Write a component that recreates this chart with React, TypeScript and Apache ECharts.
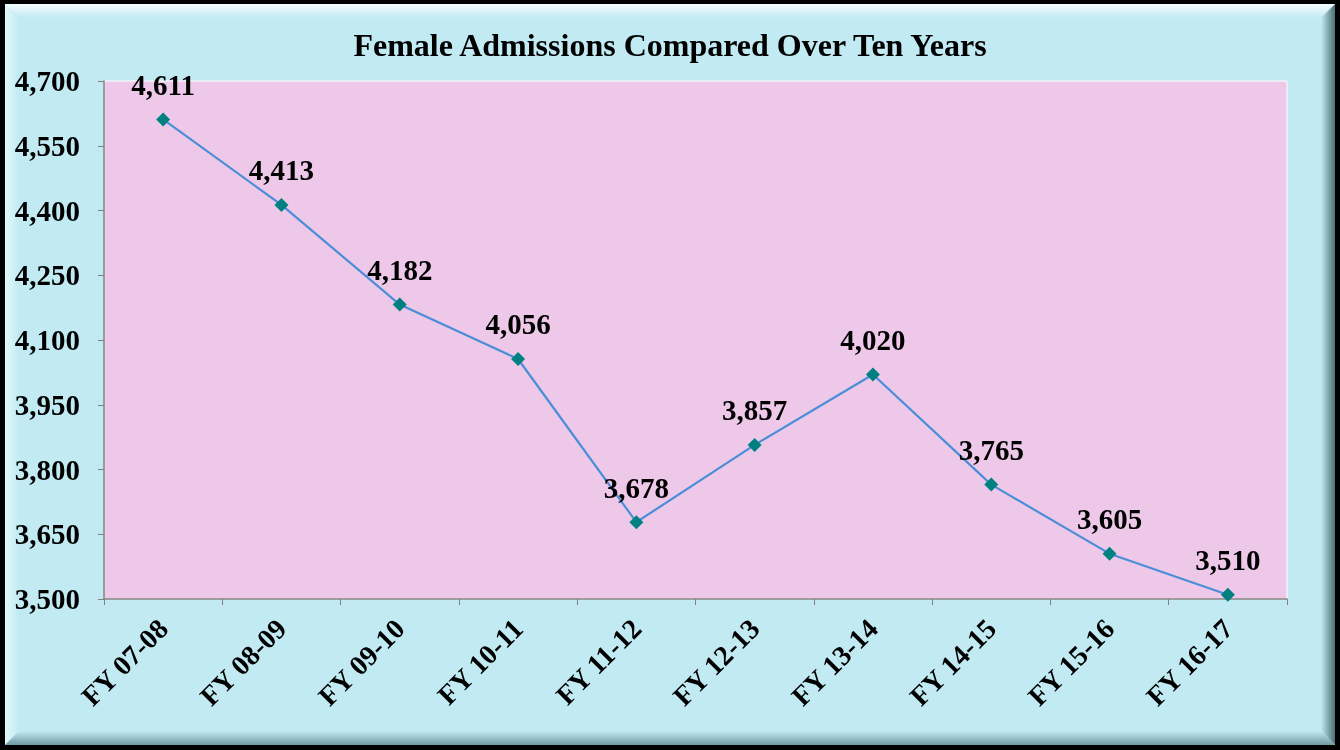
import React, { useEffect, useRef } from "react";
import * as echarts from "echarts";

const categories = ["FY 07-08", "FY 08-09", "FY 09-10", "FY 10-11", "FY 11-12", "FY 12-13", "FY 13-14", "FY 14-15", "FY 15-16", "FY 16-17"];
const admissions = [4611, 4413, 4182, 4056, 3678, 3857, 4020, 3765, 3605, 3510];
const yMin = 3500;
const yMax = 4700;
const yStep = 150;
const title = "Female Admissions Compared Over Ten Years";

const FONT = '"Liberation Serif", "Times New Roman", serif';
const BG = "#c2eaf2";

export default function App() {
  const ref = useRef<HTMLDivElement>(null);
  useEffect(() => {
    if (!ref.current) return;
    const chart = echarts.init(ref.current, null, { renderer: "svg" });
    const lin = (x: number, y: number, x2: number, y2: number, c1: string, c2: string) => ({
      type: "linear", x, y, x2, y2,
      colorStops: [{ offset: 0, color: c1 }, { offset: 1, color: c2 }],
    });
    chart.setOption({
      animation: false,
      backgroundColor: "transparent",
      graphic: [
        { type: "rect", z: -20, silent: true, shape: { x: 0, y: 0, width: 1340, height: 750 }, style: { fill: "#000" } },
        { type: "rect", z: -19, silent: true, shape: { x: 5, y: 4, width: 1330, height: 741 }, style: { fill: BG } },
        { type: "polygon", z: -18, silent: true, shape: { points: [[5, 4], [1335, 4], [1321, 18], [19, 18]] }, style: { fill: lin(0, 0, 0, 1, "#f4fdff", BG) } },
        { type: "polygon", z: -18, silent: true, shape: { points: [[5, 4], [19, 18], [19, 731], [5, 745]] }, style: { fill: lin(0, 0, 1, 0, "#e2f8fb", BG) } },
        { type: "polygon", z: -18, silent: true, shape: { points: [[1335, 4], [1335, 745], [1321, 731], [1321, 18]] }, style: { fill: lin(0, 0, 1, 0, BG, "#4a6f74") } },
        { type: "polygon", z: -18, silent: true, shape: { points: [[5, 745], [1335, 745], [1321, 731], [19, 731]] }, style: { fill: lin(0, 0, 0, 1, BG, "#6f9aa0") } },
      ],
      title: {
        text: title,
        left: "center",
        top: 24,
        textStyle: { fontFamily: FONT, fontWeight: "bold", fontSize: 32, color: "#000" },
      },
      grid: {
        left: 104, right: 53, top: 81, bottom: 151,
        show: true, backgroundColor: "#eec8e8", borderColor: "#ffffff", borderWidth: 1,
      },
      xAxis: {
        type: "category",
        data: categories,
        boundaryGap: true,
        axisLine: { lineStyle: { color: "#808080", width: 1.5 } },
        axisTick: { show: true, alignWithLabel: false, length: 6, lineStyle: { color: "#808080" } },
        axisLabel: { rotate: 45, margin: 25, fontFamily: FONT, fontWeight: "bold", fontSize: 28, color: "#000", interval: 0 },
        splitLine: { show: false },
      },
      yAxis: {
        type: "value",
        min: yMin, max: yMax, interval: yStep,
        axisLine: { show: true, lineStyle: { color: "#808080", width: 1.5 } },
        axisTick: { show: true, length: 6, lineStyle: { color: "#808080" } },
        axisLabel: {
          margin: 24, fontFamily: FONT, fontWeight: "bold", fontSize: 29, color: "#000",
          formatter: (v: number) => v.toLocaleString("en-US"),
        },
        splitLine: { show: false },
      },
      series: [
        {
          type: "line",
          data: admissions,
          symbol: "diamond",
          symbolSize: 14,
          itemStyle: { color: "#008080" },
          lineStyle: { color: "#4a8ed8", width: 2.2 },
          label: {
            show: true, position: "top", distance: 13,
            fontFamily: FONT, fontWeight: "bold", fontSize: 29, color: "#000",
            formatter: (p: any) => Number(p.value).toLocaleString("en-US"),
          },
        },
      ],
    });
    return () => chart.dispose();
  }, []);
  return <div ref={ref} style={{ position: "fixed", left: 0, top: 0, width: 1340, height: 750 }} />;
}
